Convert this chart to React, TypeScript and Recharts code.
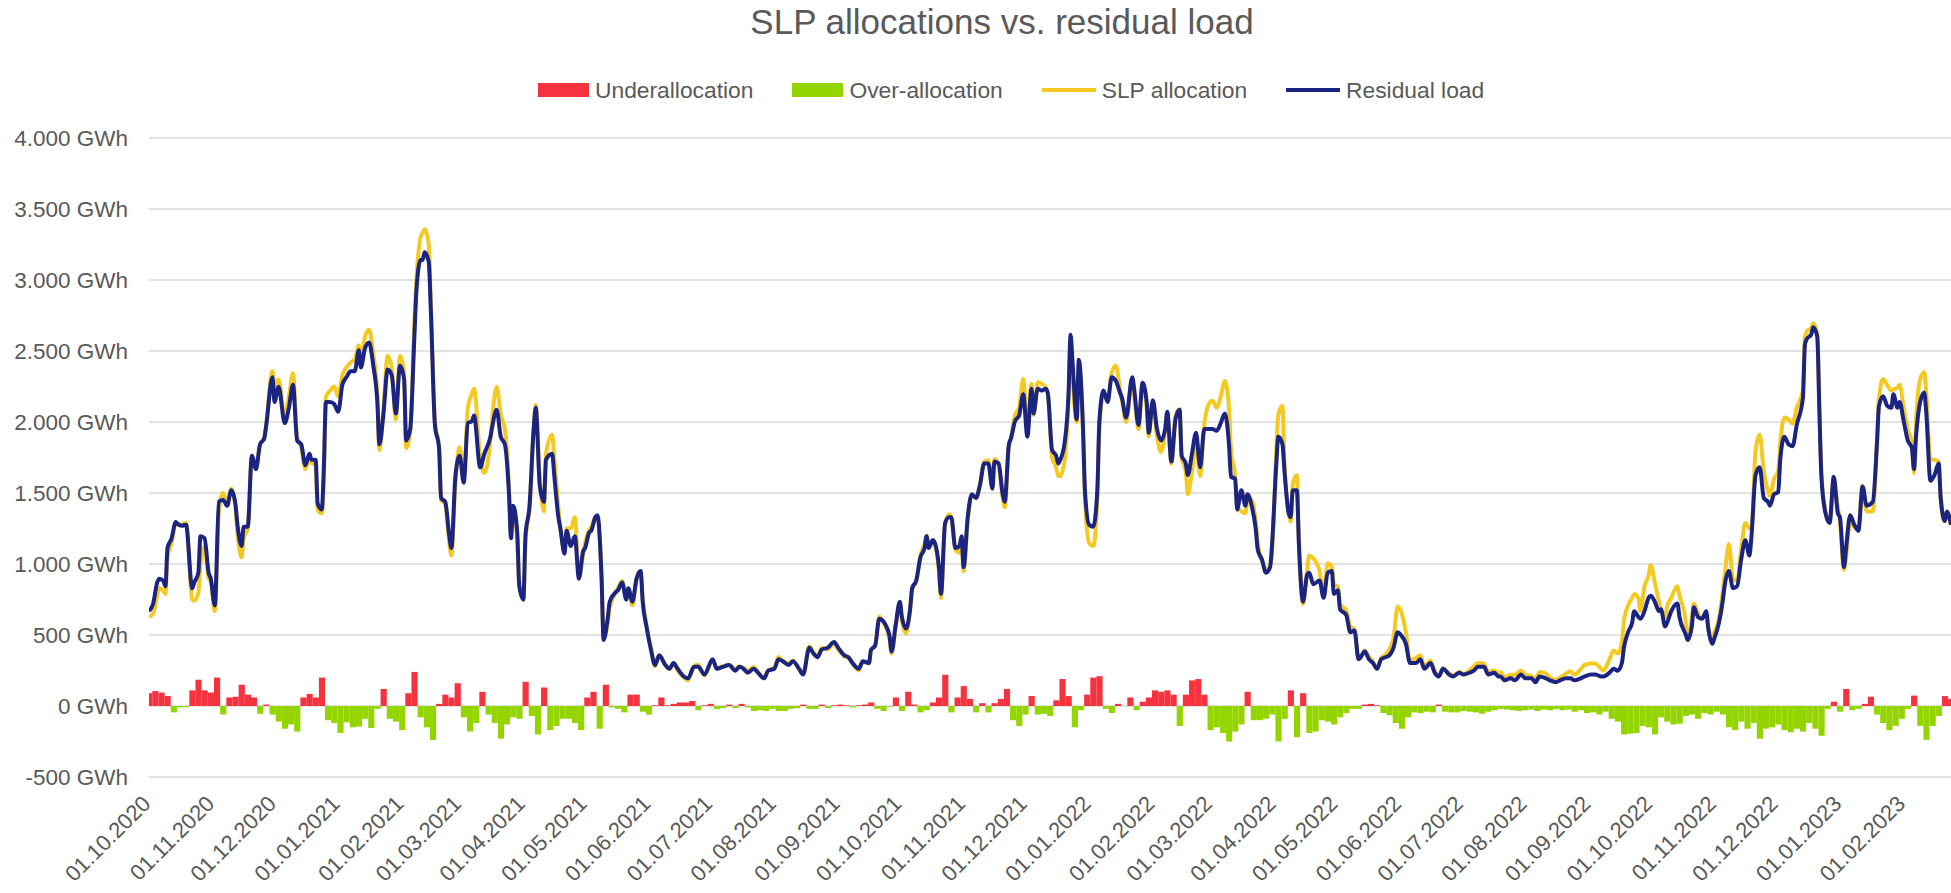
import React from 'react';
import { ComposedChart, Line, Bar, XAxis, YAxis, CartesianGrid } from 'recharts';

// ---------- data ----------
const seriesStart = '01.10.2020';

const monthTickLabels = [
  '01.10.2020', '01.11.2020', '01.12.2020', '01.01.2021', '01.02.2021', '01.03.2021',
  '01.04.2021', '01.05.2021', '01.06.2021', '01.07.2021', '01.08.2021', '01.09.2021',
  '01.10.2021', '01.11.2021', '01.12.2021', '01.01.2022', '01.02.2022', '01.03.2022',
  '01.04.2022', '01.05.2022', '01.06.2022', '01.07.2022', '01.08.2022', '01.09.2022',
  '01.10.2022', '01.11.2022', '01.12.2022', '01.01.2023', '01.02.2023',
];

const yTicks = [-500, 0, 500, 1000, 1500, 2000, 2500, 3000, 3500, 4000];

// days after 01.10.2020 at which the two lines were read
const lineDays = [
  0, 2, 4, 5, 7, 8, 9, 11, 13, 14, 16, 18, 21, 22, 24, 25, 27, 29, 30, 32,
  34, 36, 38, 40, 42, 43, 45, 46, 48, 50, 52, 54, 56, 57, 60, 61, 63, 66, 68, 70,
  72, 74, 76, 78, 79, 81, 82, 84, 85, 86, 88, 90, 92, 94, 96, 98, 100, 102, 103, 105,
  107, 109, 111, 112, 114, 116, 118, 120, 122, 124, 125, 127, 129, 130, 132, 133, 134, 136, 137, 139,
  141, 142, 144, 146, 147, 149, 151, 153, 155, 157, 158, 161, 163, 166, 167, 169, 171, 173, 175, 176,
  177, 179, 180, 182, 183, 185, 187, 188, 190, 192, 193, 196, 197, 199, 200, 202, 203, 205, 207, 209,
  211, 212, 214, 215, 217, 218, 220, 221, 223, 224, 227, 228, 230, 232, 233, 235, 237, 239, 240, 242,
  244, 246, 248, 251, 253, 255, 257, 260, 262, 265, 267, 270, 274, 276, 279, 282, 285, 287, 289, 291,
  294, 296, 299, 301, 304, 306, 308, 311, 313, 316, 318, 321, 323, 325, 327, 330, 333, 335, 338, 340,
  342, 345, 347, 350, 351, 353, 355, 358, 360, 361, 363, 365, 366, 368, 370, 371, 373, 375, 377, 378,
  379, 381, 382, 384, 385, 387, 389, 390, 392, 394, 395, 396, 398, 400, 402, 404, 406, 408, 410, 411,
  413, 415, 416, 418, 419, 421, 423, 425, 427, 429, 430, 432, 434, 436, 437, 439, 441, 442, 443, 445,
  447, 448, 449, 451, 452, 454, 455, 457, 459, 461, 462, 464, 466, 468, 470, 472, 473, 475, 478, 479,
  481, 483, 485, 486, 488, 490, 492, 494, 495, 497, 499, 501, 502, 504, 505, 507, 509, 511, 513, 515,
  517, 519, 521, 523, 525, 526, 528, 529, 531, 533, 534, 536, 538, 539, 541, 543, 545, 546, 548, 549,
  551, 552, 554, 555, 556, 558, 559, 561, 563, 564, 566, 569, 571, 573, 575, 576, 578, 579, 582, 584,
  586, 588, 589, 591, 593, 595, 597, 599, 601, 603, 605, 607, 609, 611, 613, 616, 618, 620, 623, 625,
  627, 629, 632, 634, 637, 639, 642, 644, 646, 649, 651, 654, 656, 657, 659, 662, 664, 667, 669, 672,
  674, 676, 679, 681, 684, 686, 689, 691, 693, 696, 698, 701, 703, 706, 707, 710, 712, 714, 716, 717,
  719, 721, 722, 724, 725, 727, 729, 730, 732, 734, 735, 737, 738, 740, 743, 744, 747, 748, 750, 751,
  753, 755, 757, 758, 760, 761, 763, 765, 766, 768, 770, 772, 774, 776, 778, 779, 781, 783, 785, 787,
  788, 790, 792, 793, 795, 797, 799, 801, 804, 805, 806, 808, 809, 811, 812, 813, 815, 817, 819, 821,
  822, 824, 825, 827, 829, 831, 833, 835, 838, 840, 841, 843, 845, 847, 848, 850, 851, 853, 855, 857,
  858, 859, 861, 863, 864, 866, 868, 870, 871, 873, 874, 876,
];

// Residual load (GWh)
const residualLoad = [
  668, 720, 870, 897, 880, 843, 1113, 1181, 1295, 1281, 1270, 1276, 830, 870, 938, 1195, 1181, 938, 900, 708,
  1438, 1451, 1411, 1519, 1424, 1276, 1127, 1262, 1262, 1762, 1668, 1843, 1884, 1978, 2316, 2141, 2249, 1992, 2100, 2262,
  1870, 1843, 1695, 1776, 1735, 1735, 1424, 1384, 1681, 2141, 2141, 2127, 2073, 2262, 2316, 2357, 2357, 2505, 2384, 2519,
  2560, 2400, 2141, 1843, 2060, 2370, 2330, 2060, 2397, 2303, 1870, 1951, 2600, 2924, 3141, 3141, 3195, 3127, 2789, 1978,
  1816, 1465, 1438, 1195, 1113, 1627, 1762, 1573, 1992, 2006, 2046, 1681, 1776, 1897, 1978, 2087, 1897, 1843, 1492, 1181,
  1411, 1222, 843, 749, 1195, 1411, 1951, 2100, 1546, 1438, 1735, 1776, 1627, 1330, 1249, 1073, 1235, 1127, 1195, 897,
  1087, 1113, 1222, 1235, 1330, 1343, 900, 465, 620, 735, 803, 816, 870, 749, 830, 735, 897, 951, 735, 546,
  397, 289, 357, 289, 262, 303, 262, 208, 195, 276, 276, 222, 330, 262, 276, 289, 249, 276, 262, 235,
  262, 235, 195, 249, 262, 330, 316, 289, 316, 262, 222, 411, 370, 343, 397, 411, 451, 411, 357, 343,
  303, 262, 316, 303, 397, 424, 614, 573, 492, 384, 573, 735, 627, 546, 681, 830, 884, 1046, 1113, 1195,
  1113, 1168, 1150, 978, 789, 1289, 1330, 1330, 1113, 1127, 1195, 978, 1330, 1492, 1465, 1559, 1708, 1708, 1532, 1722,
  1708, 1492, 1438, 1843, 1884, 2006, 2046, 2195, 1897, 2235, 2060, 2235, 2222, 2235, 2195, 1803, 1762, 1708, 1735, 1843,
  2195, 2614, 2411, 2019, 2438, 1978, 1519, 1276, 1262, 1519, 2006, 2222, 2141, 2316, 2290, 2208, 2168, 2032, 2316, 2222,
  1978, 2276, 2141, 1924, 2154, 1951, 1870, 1951, 2073, 1722, 2019, 2087, 1762, 1708, 1627, 1776, 1924, 1681, 1951, 1951,
  1951, 1938, 1992, 2060, 1843, 1614, 1600, 1384, 1519, 1411, 1492, 1411, 1249, 1100, 1032, 938, 978, 1150, 1700, 1897,
  1843, 1654, 1357, 1330, 1519, 1519, 1141, 735, 924, 938, 857, 884, 762, 938, 951, 789, 816, 681, 641, 519,
  532, 330, 343, 384, 330, 303, 262, 330, 343, 357, 411, 519, 492, 438, 303, 303, 330, 262, 303, 235,
  208, 262, 222, 208, 235, 222, 235, 249, 276, 276, 222, 235, 208, 208, 181, 195, 181, 222, 195, 195,
  168, 208, 195, 181, 168, 181, 195, 195, 181, 195, 208, 222, 222, 208, 208, 235, 262, 249, 303, 411,
  519, 587, 668, 627, 614, 668, 762, 776, 735, 668, 681, 560, 587, 668, 722, 627, 505, 465, 560, 695,
  627, 614, 668, 546, 438, 478, 573, 735, 850, 951, 830, 843, 1032, 1168, 1060, 1195, 1627, 1681, 1465, 1438,
  1411, 1492, 1505, 1735, 1897, 1843, 1830, 1978, 2168, 2546, 2587, 2614, 2668, 2600, 2087, 1614, 1357, 1289, 1614, 1357,
  1330, 978, 1113, 1343, 1276, 1235, 1546, 1411, 1438, 1843, 2114, 2181, 2114, 2100, 2195, 2100, 2141, 2006, 1870, 1816,
  1668, 1897, 2141, 2208, 2060, 1586, 1627, 1708, 1465, 1303, 1370, 1276,
];

// SLP allocation (GWh)
const slpAllocation = [
  627, 650, 780, 830, 810, 790, 1050, 1150, 1290, 1281, 1280, 1290, 749, 741, 800, 1000, 1120, 900, 880, 668,
  1380, 1500, 1420, 1530, 1400, 1220, 1046, 1180, 1250, 1750, 1680, 1850, 1880, 1990, 2357, 2250, 2300, 2030, 2180, 2343,
  1900, 1820, 1668, 1740, 1710, 1700, 1380, 1357, 1600, 2180, 2220, 2250, 2180, 2330, 2384, 2420, 2440, 2538, 2450, 2600,
  2650, 2480, 2200, 1803, 2100, 2465, 2380, 2020, 2465, 2340, 1816, 1930, 2700, 3000, 3300, 3330, 3357, 3250, 2850, 2000,
  1830, 1450, 1420, 1150, 1060, 1580, 1822, 1600, 2100, 2200, 2235, 1750, 1640, 1880, 2050, 2249, 2050, 1950, 1550, 1200,
  1380, 1180, 870, 760, 1150, 1400, 1950, 2120, 1600, 1370, 1780, 1911, 1750, 1400, 1250, 1100, 1250, 1250, 1330, 920,
  1060, 1150, 1240, 1260, 1330, 1330, 920, 480, 580, 700, 800, 830, 880, 760, 820, 710, 890, 940, 760, 560,
  410, 280, 350, 290, 260, 300, 250, 200, 180, 280, 290, 215, 320, 270, 280, 290, 260, 280, 270, 250,
  275, 240, 200, 250, 270, 345, 320, 300, 320, 260, 230, 420, 380, 350, 410, 400, 440, 400, 350, 340,
  300, 250, 310, 300, 390, 430, 630, 560, 470, 370, 560, 720, 600, 510, 690, 820, 880, 1060, 1140, 1200,
  1120, 1170, 1140, 950, 760, 1280, 1350, 1330, 1100, 1080, 1180, 950, 1300, 1480, 1470, 1570, 1720, 1730, 1530, 1740,
  1700, 1470, 1400, 1820, 1880, 2050, 2100, 2303, 1950, 2270, 2050, 2280, 2270, 2240, 2200, 1750, 1680, 1620, 1620, 1720,
  2150, 2550, 2300, 2000, 2350, 1950, 1450, 1150, 1127, 1450, 1950, 2200, 2150, 2350, 2397, 2230, 2150, 2000, 2300, 2180,
  1950, 2260, 2100, 1897, 2150, 1900, 1789, 1940, 2060, 1708, 2040, 2090, 1750, 1650, 1492, 1650, 1850, 1620, 1980, 2120,
  2150, 2100, 2180, 2289, 2100, 1800, 1620, 1400, 1370, 1357, 1450, 1450, 1300, 1150, 1032, 960, 990, 1100, 1800, 2050,
  2114, 1700, 1380, 1300, 1560, 1627, 1150, 720, 950, 1060, 1040, 950, 790, 1005, 980, 860, 840, 720, 670, 560,
  540, 330, 340, 390, 345, 310, 260, 340, 360, 400, 480, 700, 650, 520, 320, 340, 357, 280, 320, 245,
  215, 265, 230, 215, 240, 225, 250, 280, 303, 300, 240, 250, 225, 240, 200, 220, 220, 250, 220, 210,
  190, 240, 230, 200, 185, 200, 230, 245, 220, 260, 290, 300, 300, 260, 250, 330, 390, 370, 450, 600,
  708, 762, 789, 760, 668, 843, 920, 992, 870, 735, 681, 627, 700, 762, 843, 780, 600, 465, 620, 722,
  650, 620, 641, 560, 465, 520, 600, 800, 920, 1141, 897, 880, 1100, 1289, 1250, 1250, 1800, 1911, 1650, 1519,
  1480, 1600, 1654, 1850, 2032, 2019, 1990, 2100, 2222, 2600, 2640, 2660, 2695, 2620, 2100, 1650, 1370, 1300, 1580, 1400,
  1300, 960, 1050, 1300, 1260, 1260, 1550, 1370, 1370, 1880, 2168, 2303, 2260, 2222, 2230, 2240, 2262, 2100, 1950, 1850,
  1641, 2000, 2300, 2350, 2200, 1735, 1735, 1720, 1450, 1300, 1350, 1280,
];

// Residual load minus SLP allocation (GWh), one value every BAR_STEP_DAYS days from 01.10.2020
const BAR_STEP_DAYS = 3;
const allocationDiff = [
  90, 105, 95, 70, -45, -10, -8, 110, 185, 110,
  95, 200, -60, 60, 65, 150, 80, 60, -55, 10,
  -60, -110, -160, -130, -180, 60, 85, 60, 200, -100,
  -120, -190, -115, -150, -145, -90, -155, -20, 120, -90,
  -110, -170, 90, 240, -80, -150, -240, 15, 80, 60,
  160, -80, -180, -120, 100, -60, -120, -230, -130, -80,
  -90, 170, -70, -200, 130, -170, -140, -90, -90, -120,
  -170, 60, 100, -160, 150, -10, -20, -45, 80, 80,
  -40, -60, 5, 60, 5, 15, 25, 25, 35, -30,
  5, 15, -22, -15, 10, -15, 15, -10, -35, -30,
  -35, -20, -35, -35, -20, -15, 10, -20, -20, 10,
  -15, 5, 10, 5, -10, 5, 10, 25, -20, -35,
  -5, 60, -35, 100, 10, -45, -30, 25, 60, 220,
  -45, 60, 140, 50, -45, 20, -45, 20, 50, 120,
  -100, -140, -60, 70, -60, -55, -70, 40, 190, 70,
  -150, -30, 80, 200, 210, -20, -50, 15, 0, 60,
  -30, 30, 60, 110, 100, 110, 80, -140, 80, 180,
  190, 80, -170, -150, -190, -250, -180, -130, 100, -100,
  -100, -90, -60, -250, -90, 110, -220, 90, -190, -180,
  -100, -110, -130, -80, -50, -20, -20, 10, 15, 5,
  -50, -65, -120, -160, -80, -45, -50, -40, -45, 10,
  -40, -45, -45, -35, -40, -45, -55, -40, -30, -20,
  -25, -30, -35, -30, -25, -35, -25, -30, -20, -30,
  -25, -40, -30, -50, -45, -60, -40, -90, -110, -200,
  -195, -190, -140, -150, -200, -80, -110, -130, -125, -70,
  -60, -90, -50, -60, -40, -60, -150, -170, -110, -160,
  -120, -230, -160, -150, -130, -170, -185, -160, -180, -120,
  -160, -210, -20, 30, -40, 120, -30, -20, 15, 65,
  -60, -120, -170, -140, -90, -20, 73, -140, -238, -140,
  -70, 70, 50,
];

// ---------- helpers ----------
const COLORS = {
  under: '#F5333F',
  over: '#94D500',
  slp: '#F4C922',
  residual: '#1B2480',
  text: '#595959',
  grid: '#D9D9D9',
};
const FONT = "'Liberation Sans', Arial, sans-serif";

const parseDay = (label: string) => {
  const [d, m, y] = label.split('.').map(Number);
  return Date.UTC(y, m - 1, d);
};
const START_MS = parseDay(seriesStart);
const dayIndex = (label: string) => Math.round((parseDay(label) - START_MS) / 86400000);

const monthTickDays = monthTickLabels.map(dayIndex);
const tickLabelByDay: Record<number, string> = {};
monthTickLabels.forEach((l, i) => { tickLabelByDay[monthTickDays[i]] = l; });

const lastDay = (allocationDiff.length - 1) * BAR_STEP_DAYS;

type Row = { day: number; residual?: number; slp?: number; diff?: number };
const rowMap = new Map<number, Row>();
const getRow = (d: number) => {
  if (!rowMap.has(d)) rowMap.set(d, { day: d });
  return rowMap.get(d)!;
};
lineDays.forEach((d, i) => {
  const r = getRow(d);
  r.residual = residualLoad[i];
  r.slp = slpAllocation[i];
});
allocationDiff.forEach((v, i) => {
  getRow(i * BAR_STEP_DAYS).diff = v;
});
const data: Row[] = Array.from(rowMap.values()).sort((a, b) => a.day - b.day);

const fmtGWh = (v: number) => `${String(v).replace(/\B(?=(\d{3})+(?!\d))/g, '.')} GWh`;

// plot spans 1802 px for lastDay days -> a bar covers BAR_STEP_DAYS days
const BAR_WIDTH = (1802 / 876) * BAR_STEP_DAYS;

const DiffBar = (props: any) => {
  const { x, y, width, height, payload } = props;
  if (x == null || y == null || !height || payload?.diff == null) return <g />;
  const cx = x + width / 2;
  const top = Math.min(y, y + height);
  const h = Math.abs(height);
  return (
    <rect
      x={cx - BAR_WIDTH / 2}
      y={top}
      width={BAR_WIDTH}
      height={h}
      fill={payload.diff >= 0 ? COLORS.under : COLORS.over}
    />
  );
};

const DateTick = (props: any) => {
  const { x, payload } = props;
  const ax = x + 3;
  const ay = 805;
  return (
    <text
      x={ax}
      y={ay}
      transform={`rotate(-45, ${ax}, ${ay})`}
      textAnchor="end"
      fill={COLORS.text}
      fontSize={22}
      fontFamily={FONT}
    >
      {tickLabelByDay[payload.value] ?? ''}
    </text>
  );
};

const ValueTick = (props: any) => {
  const { y, payload } = props;
  return (
    <text x={128} y={y} dy={7.5} textAnchor="end" fill={COLORS.text} fontSize={22.5} fontFamily={FONT}>
      {fmtGWh(payload.value)}
    </text>
  );
};

const legendItems = [
  { label: 'Underallocation', color: COLORS.under, kind: 'box' },
  { label: 'Over-allocation', color: COLORS.over, kind: 'box' },
  { label: 'SLP allocation', color: COLORS.slp, kind: 'line' },
  { label: 'Residual load', color: COLORS.residual, kind: 'line' },
];

export default function App() {
  return (
    <div
      style={{
        position: 'absolute',
        left: 0,
        top: 0,
        width: 1951,
        height: 893,
        background: '#fff',
        overflow: 'hidden',
        fontFamily: FONT,
      }}
    >
      <div
        style={{
          position: 'absolute',
          left: 0,
          top: 4,
          width: 2004,
          textAlign: 'center',
          fontSize: 35,
          lineHeight: '36px',
          color: COLORS.text,
        }}
      >
        SLP allocations vs. residual load
      </div>
      <div
        style={{
          position: 'absolute',
          left: 538,
          top: 76,
          height: 28,
          display: 'flex',
          alignItems: 'center',
          gap: 39,
          fontSize: 22.8,
          color: COLORS.text,
        }}
      >
        {legendItems.map((it) => (
          <div key={it.label} style={{ display: 'flex', alignItems: 'center', gap: 6 }}>
            <div
              style={{
                width: it.kind === 'box' ? 51 : 54,
                height: it.kind === 'box' ? 14 : 4,
                background: it.color,
              }}
            />
            <span>{it.label}</span>
          </div>
        ))}
      </div>
      <div style={{ position: 'absolute', left: 0, top: 0 }}>
        <ComposedChart
          width={1951}
          height={893}
          data={data}
          margin={{ top: 138, right: 0, bottom: 0, left: 0 }}
        >
          <CartesianGrid vertical={false} stroke={COLORS.grid} strokeWidth={1.5} />
          <XAxis
            dataKey="day"
            type="number"
            domain={[0, lastDay]}
            ticks={monthTickDays}
            interval={0}
            allowDataOverflow
            axisLine={false}
            tickLine={false}
            height={116}
            tick={<DateTick />}
          />
          <YAxis
            type="number"
            domain={[-500, 4000]}
            ticks={yTicks}
            interval={0}
            allowDataOverflow
            axisLine={false}
            tickLine={false}
            width={149}
            tick={<ValueTick />}
          />
          <Bar dataKey="diff" shape={<DiffBar />} isAnimationActive={false} />
          <Line
            type="monotone"
            dataKey="slp"
            stroke={COLORS.slp}
            strokeWidth={4}
            dot={false}
            connectNulls
            isAnimationActive={false}
          />
          <Line
            type="monotone"
            dataKey="residual"
            stroke={COLORS.residual}
            strokeWidth={4}
            dot={false}
            connectNulls
            isAnimationActive={false}
          />
        </ComposedChart>
      </div>
    </div>
  );
}
